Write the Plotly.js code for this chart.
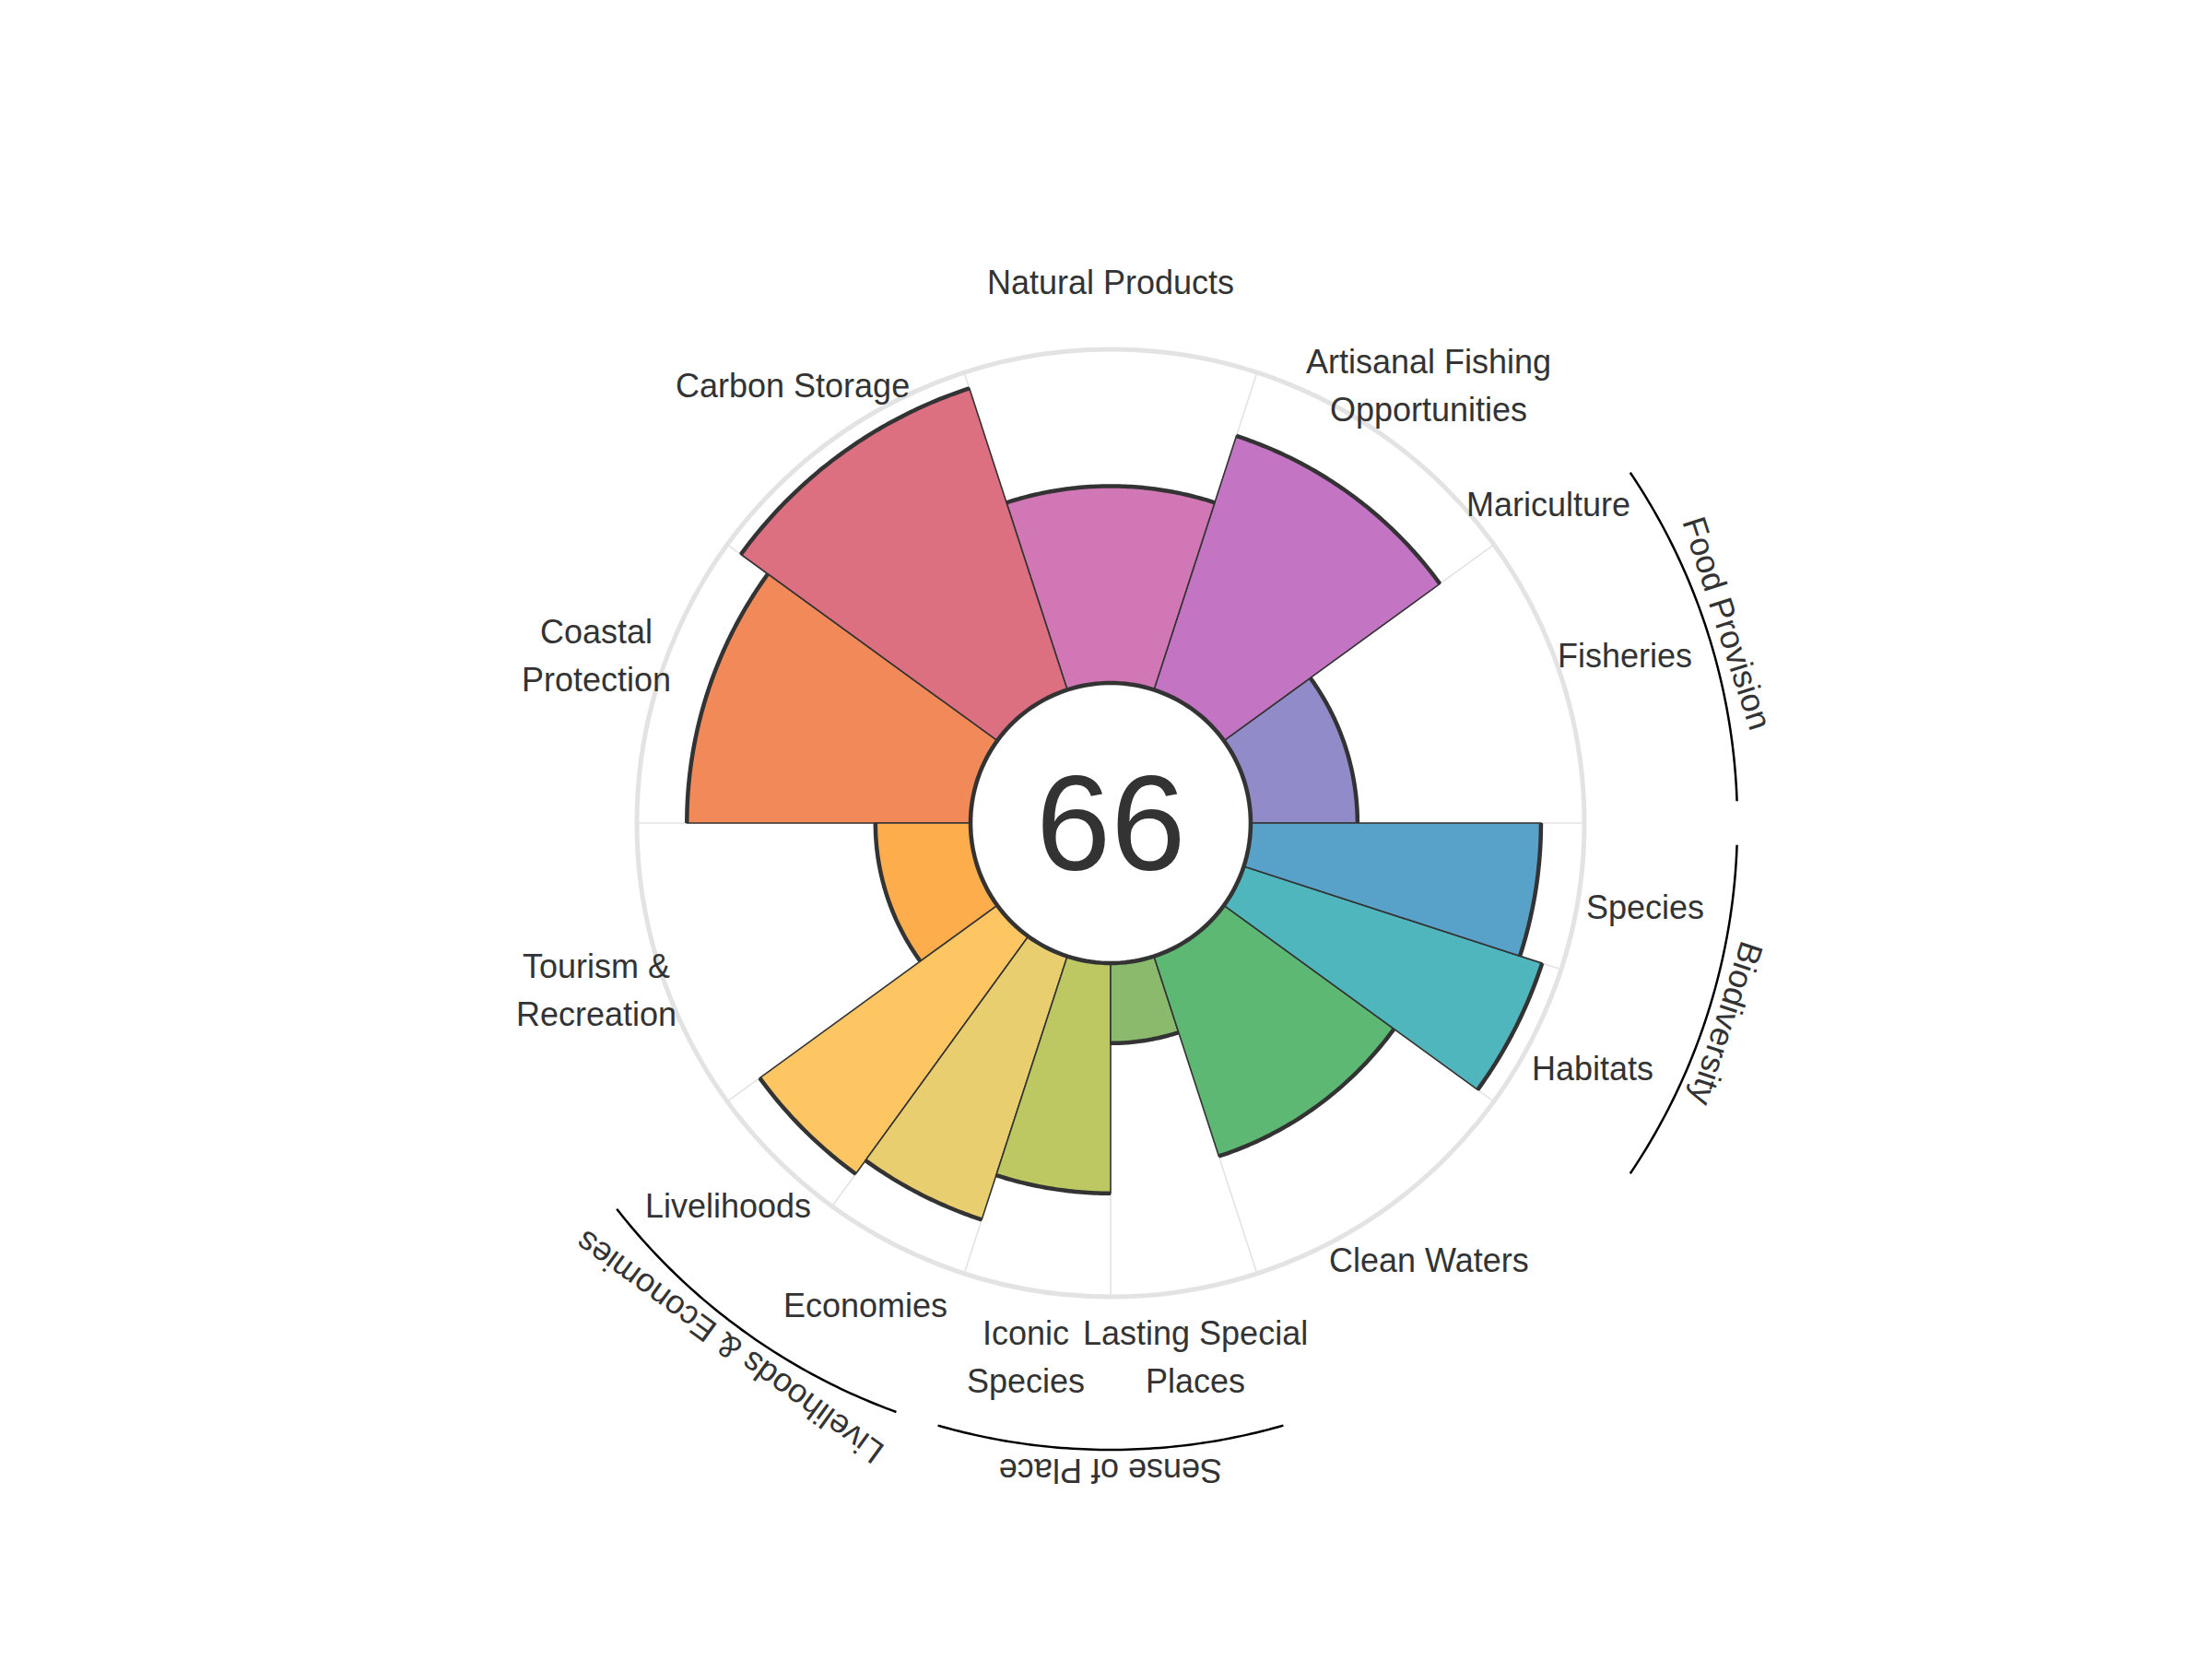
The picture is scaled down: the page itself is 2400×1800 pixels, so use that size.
<!DOCTYPE html>
<html>
<head>
<meta charset="utf-8">
<script src="https://cdn.plot.ly/plotly-3.0.1.min.js"></script>
<style>html,body{margin:0;padding:0;background:#fff;}</style>
</head>
<body>
<div id="chart" style="width:2400px;height:1800px;"></div>
<script>
// ---------------- data ----------------
const goalLabels = ['Fisheries', 'Mariculture', 'Artisanal Fishing<br>Opportunities', 'Natural Products',
  'Carbon Storage', 'Coastal<br>Protection', 'Tourism &<br>Recreation', 'Livelihoods', 'Economies',
  'Iconic<br>Species', 'Lasting Special<br>Places', 'Clean Waters', 'Habitats', 'Species'];
const goalScores = [32, null, 80, 59, 95, 85, 28.5, 88, 83, 69, 24, 63, 94, 87];
const goalWeights = [1, 0, 1, 1, 1, 1, 1, 0.5, 0.5, 0.5, 0.5, 1, 0.5, 0.5];
const goalColors = ['#928BC9', '#A99FD3', '#C374C3', '#D277B5', '#DC6F80', '#F18A58', '#FDAD4B',
  '#FDC663', '#E9CE6F', '#BEC863', '#8BBA6D', '#5DB874', '#4EB6BC', '#58A2C9'];
const groupNames = ['Food Provision', 'Biodiversity', 'Livelihoods & Economies', 'Sense of Place'];
const groupMembers = [[0, 1], [12, 13], [7, 8], [9, 10]];
const indexScore = 66;

// ---------------- geometry (layout only) ----------------
const W = 2400, H = 1800;
const CX = 1205, CY = 893, R_OUT = 514, R_HOLE = 152;
const R_LABEL = 587, R_GROUP_ARC = 680, R_GROUP_TEXT = 703, R2 = 720;
const FONT = '"Liberation Sans", Arial, Helvetica, sans-serif';
const TXT = '#333333';

const totalW = goalWeights.reduce((a, b) => a + b, 0);
const unit = 360 / totalW;
const starts = [], ends = [], centers = [], widths = [];
let acc = 0;
goalWeights.forEach(w => {
  starts.push(acc);
  widths.push(w * unit);
  centers.push(acc + w * unit / 2);
  acc += w * unit;
  ends.push(acc);
});
const bounds = Array.from(new Set([0].concat(ends))).filter(v => v < 360);

const px2paperX = x => x / W;
const px2paperY = y => 1 - y / H;

// ---------------- traces ----------------
const shown = goalWeights.map((w, i) => i).filter(i => goalWeights[i] > 0);

const bars = {
  type: 'barpolar',
  subplot: 'polar',
  r: shown.map(i => goalScores[i]),
  theta: shown.map(i => centers[i]),
  width: shown.map(i => widths[i]),
  marker: {color: shown.map(i => goalColors[i]), line: {color: '#333333', width: 1.6}},
  hoverinfo: 'skip',
  showlegend: false
};

// thick outer arcs of each petal
const arcR = [], arcT = [];
shown.forEach(i => {
  const n = Math.max(8, Math.round(widths[i] * 2));
  for (let k = 0; k <= n; k++) {
    arcT.push(starts[i] + widths[i] * k / n);
    arcR.push(goalScores[i]);
  }
  arcT.push(null); arcR.push(null);
});
const arcs = {
  type: 'scatterpolar', subplot: 'polar', mode: 'lines',
  r: arcR, theta: arcT, connectgaps: false,
  line: {color: '#333333', width: 4.5},
  cliponaxis: false, hoverinfo: 'skip', showlegend: false
};

// hole outline (drawn on the pixel-unit overlay polar)
const holeT = [], holeR = [];
for (let a = 0; a <= 360; a += 2) { holeT.push(a); holeR.push(R_HOLE); }
const hole = {
  type: 'scatterpolar', subplot: 'polar2', mode: 'lines',
  r: holeR, theta: holeT,
  line: {color: '#333333', width: 4.5},
  cliponaxis: false, hoverinfo: 'skip', showlegend: false
};

// group arcs (second polar in pixel-like units)
const gR = [], gT = [];
groupMembers.forEach(m => {
  const s = starts[m[0]] + 2, e = ends[m[m.length - 1]] - 2;
  const n = Math.round((e - s) * 2);
  for (let k = 0; k <= n; k++) { gT.push(s + (e - s) * k / n); gR.push(R_GROUP_ARC); }
  gT.push(null); gR.push(null);
});
const groupArcs = {
  type: 'scatterpolar', subplot: 'polar2', mode: 'lines',
  r: gR, theta: gT, connectgaps: false,
  line: {color: '#000000', width: 2.5},
  cliponaxis: false, hoverinfo: 'skip', showlegend: false
};

// ---------------- annotations ----------------
const annotations = [];
goalLabels.forEach((lab, i) => {
  const th = centers[i] * Math.PI / 180;
  const x = CX + R_LABEL * Math.cos(th), y = CY - R_LABEL * Math.sin(th);
  const lines = lab.split('<br>');
  lines.forEach((ln, k) => {
    annotations.push({
      xref: 'paper', yref: 'paper', x: px2paperX(x), y: px2paperY(y),
      xanchor: 'center', yanchor: 'middle', showarrow: false,
      yshift: ((lines.length - 1) / 2 - k) * 52,
      text: ln, font: {family: FONT, size: 36, color: TXT}
    });
  });
});
groupNames.forEach((g, j) => {
  const m = groupMembers[j];
  const c = (starts[m[0]] + ends[m[m.length - 1]]) / 2;
  const th = c * Math.PI / 180;
  const x = CX + R_GROUP_TEXT * Math.cos(th), y = CY - R_GROUP_TEXT * Math.sin(th);
  annotations.push({
    xref: 'paper', yref: 'paper', x: px2paperX(x), y: px2paperY(y),
    xanchor: 'center', yanchor: 'middle', showarrow: false,
    textangle: 90 - c,
    text: g, font: {family: FONT, size: 36, color: TXT}
  });
});
annotations.push({
  xref: 'paper', yref: 'paper', x: px2paperX(CX), y: px2paperY(CY),
  xanchor: 'center', yanchor: 'middle', showarrow: false,
  text: String(indexScore), font: {family: FONT, size: 146, color: TXT}
});

// ---------------- layout ----------------
const layout = {
  width: W, height: H,
  margin: {l: 0, r: 0, t: 0, b: 0},
  paper_bgcolor: '#ffffff', plot_bgcolor: '#ffffff',
  showlegend: false,
  font: {family: FONT, color: TXT},
  polar: {
    domain: {x: [(CX - R_OUT) / W, (CX + R_OUT) / W], y: [(H - CY - R_OUT) / H, (H - CY + R_OUT) / H]},
    hole: R_HOLE / R_OUT,
    bgcolor: 'rgba(0,0,0,0)',
    barmode: 'overlay',
    radialaxis: {range: [0, 100], visible: false, showgrid: false, layer: 'below traces'},
    angularaxis: {
      direction: 'counterclockwise', rotation: 0,
      tickmode: 'array', tickvals: bounds, showticklabels: false, ticks: '',
      showgrid: true, gridcolor: '#e3e3e3', gridwidth: 1.6,
      showline: true, linecolor: '#e3e3e3', linewidth: 5,
      layer: 'below traces'
    }
  },
  polar2: {
    domain: {x: [(CX - R2) / W, (CX + R2) / W], y: [(H - CY - R2) / H, (H - CY + R2) / H]},
    bgcolor: 'rgba(0,0,0,0)',
    radialaxis: {range: [0, R2], visible: false},
    angularaxis: {visible: false, direction: 'counterclockwise', rotation: 0}
  },
  annotations: annotations
};

Plotly.newPlot('chart', [bars, arcs, hole, groupArcs], layout, {staticPlot: true, displayModeBar: false});
</script>
</body>
</html>
